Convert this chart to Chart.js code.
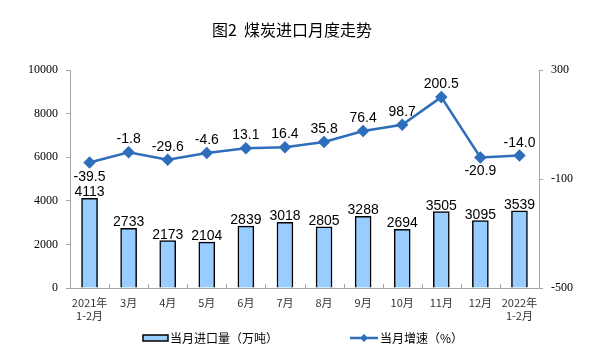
<!DOCTYPE html>
<html><head><meta charset="utf-8">
<script src="https://cdn.jsdelivr.net/npm/chart.js@4/dist/chart.umd.min.js"></script>
<style>html,body{margin:0;padding:0;background:#fff}#wrap{width:597px;height:355px;position:relative}</style>
</head><body><div id="wrap"><canvas id="c" width="597" height="355"></canvas></div>
<script>
const categories = [["2021年","1-2月"],"3月","4月","5月","6月","7月","8月","9月","10月","11月","12月",["2022年","1-2月"]];
const importVolume = [4113,2733,2173,2104,2839,3018,2805,3288,2694,3505,3095,3539];
const growthRate = [-39.5,-1.8,-29.6,-4.6,13.1,16.4,35.8,76.4,98.7,200.5,-20.9,-14.0];
const growthLabels = ["-39.5","-1.8","-29.6","-4.6","13.1","16.4","35.8","76.4","98.7","200.5","-20.9","-14.0"];
const belowIdx = [0,10];
const title = "图2  煤炭进口月度走势";
const legendBar = "当月进口量（万吨）";
const legendLine = "当月增速（%）";

const axisColor = '#A6A6A6';
const lineColor = '#2E6EBB';
const numFont = '14px "Liberation Sans", Arial, sans-serif';
const cjkFont = '"Noto Sans CJK SC", sans-serif';

const overlay = {
  id:'overlay',
  afterDraw(chart){
    const ctx = chart.ctx;
    const ca = chart.chartArea;
    ctx.save();
    ctx.strokeStyle = axisColor; ctx.lineWidth = 1;
    for(let i=0;i<=categories.length;i++){
      const px = Math.round(ca.left + (ca.right-ca.left)*i/categories.length)+0.5;
      ctx.beginPath(); ctx.moveTo(px, ca.bottom); ctx.lineTo(px, ca.bottom-4); ctx.stroke();
    }
    ctx.fillStyle = '#000';
    ctx.font = '400 16px ' + cjkFont;
    ctx.textAlign = 'center'; ctx.textBaseline = 'middle';
    ctx.fillText(title, 292, 30);
    ctx.font = numFont; ctx.fillStyle = '#000';
    ctx.textBaseline = 'alphabetic';
    const m0 = chart.getDatasetMeta(0);
    m0.data.forEach((el,i)=>{ ctx.fillText(String(importVolume[i]), el.x, el.y-2); });
    const m1 = chart.getDatasetMeta(1);
    m1.data.forEach((el,i)=>{
      if(belowIdx.includes(i)){ ctx.fillText(growthLabels[i], el.x, el.y+18); }
      else { ctx.fillText(growthLabels[i], el.x, el.y-9); }
    });
    const ly = 338;
    ctx.fillStyle = '#99CCFF'; ctx.strokeStyle = '#000'; ctx.lineWidth = 1.5;
    ctx.fillRect(143, ly-3, 25, 6); ctx.strokeRect(143, ly-3, 25, 6);
    ctx.fillStyle = '#000'; ctx.font = '12px ' + cjkFont; ctx.textAlign='left'; ctx.textBaseline='middle';
    ctx.fillText(legendBar, 170, ly);
    ctx.strokeStyle = lineColor; ctx.lineWidth = 2.5;
    ctx.beginPath(); ctx.moveTo(350, ly); ctx.lineTo(378, ly); ctx.stroke();
    ctx.fillStyle = lineColor;
    ctx.beginPath(); ctx.moveTo(364, ly-4); ctx.lineTo(368, ly); ctx.lineTo(364, ly+4); ctx.lineTo(360, ly); ctx.closePath(); ctx.fill();
    ctx.fillStyle = '#000';
    ctx.fillText(legendLine, 380, ly);
    ctx.restore();
  }
};

new Chart(document.getElementById('c'), {
  data: {
    labels: categories,
    datasets: [
      { type:'bar', data: importVolume, yAxisID:'y', backgroundColor:'#99CCFF', borderColor:'#000', borderWidth:1.5, barThickness:16, order:2 },
      { type:'line', data: growthRate, yAxisID:'y1', borderColor:lineColor, backgroundColor:lineColor, borderWidth:2.5,
        pointStyle:'rectRot', pointRadius:4.5, pointHoverRadius:4.5, tension:0, order:1 }
    ]
  },
  options: {
    responsive:false, animation:false, events:[],
    layout:{ padding:{ top:70, bottom:0, left:0, right:0 } },
    plugins:{ legend:{display:false}, title:{display:false}, tooltip:{enabled:false} },
    scales:{
      x:{ offset:true, grid:{ display:false, drawTicks:false }, border:{ color:axisColor, width:1 },
          ticks:{ color:'#333', font:{ family:'"Noto Sans CJK SC", sans-serif', size:11 }, padding:8, maxRotation:0, autoSkip:false },
          afterFit(s){ s.height = 67; } },
      y:{ position:'left', min:0, max:10000, grid:{ display:true, drawOnChartArea:false, tickLength:4, color:axisColor },
          border:{ color:axisColor, width:1 },
          ticks:{ stepSize:2000, color:'#000', font:{ family:'"Liberation Serif", serif', size:12 }, padding:8, callback:v=>String(v) },
          afterFit(s){ s.width = 70; } },
      y1:{ position:'right', min:-500, max:300, grid:{ display:true, drawOnChartArea:false, tickLength:4, color:axisColor },
          border:{ color:axisColor, width:1 },
          ticks:{ stepSize:400, color:'#000', font:{ family:'"Liberation Serif", serif', size:12 }, padding:8, callback:v=>String(v) },
          afterFit(s){ s.width = 58; } }
    }
  },
  plugins:[overlay]
});
</script></body></html>
